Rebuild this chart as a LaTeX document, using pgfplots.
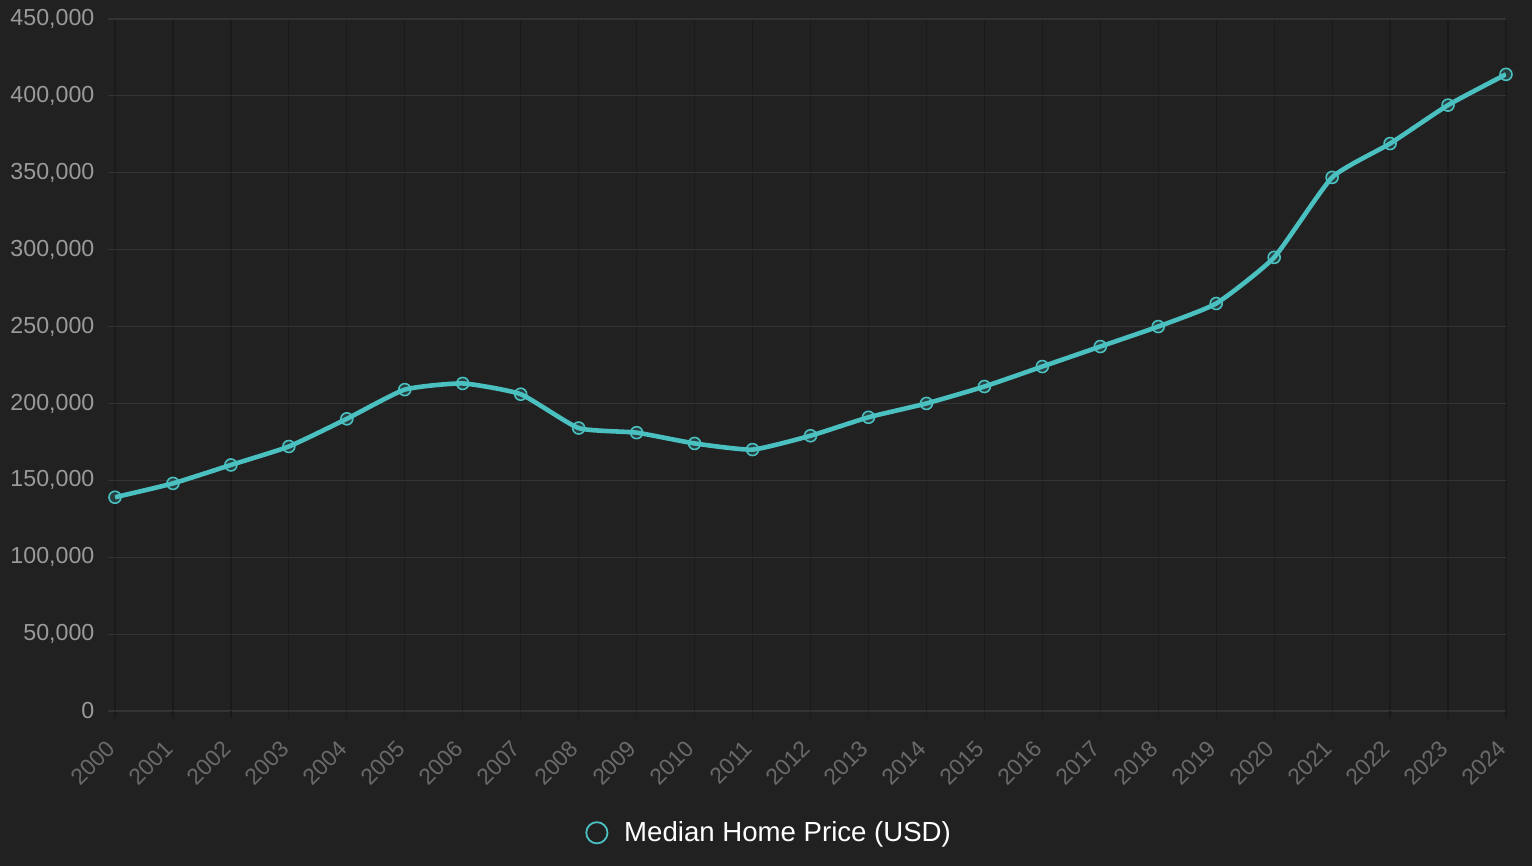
\documentclass[border=0pt]{standalone}
\usepackage{pgfplots}
\pgfplotsset{compat=1.18}
\usepackage{fontspec}
\setmainfont{Liberation Sans}
\definecolor{bg}{HTML}{212121}
\definecolor{tealc}{HTML}{4BC0C0}
\definecolor{gridh}{HTML}{333333}
\definecolor{gridv}{HTML}{1A1A1A}
\definecolor{ylab}{HTML}{9A9A9A}
\definecolor{xlab}{HTML}{6A6A6A}
\begin{document}
\begin{tikzpicture}
\fill[bg] (-57.5pt,-77.5pt) rectangle (708.5pt,355.5pt);
\useasboundingbox (-57.5pt,-77.5pt) rectangle (708.5pt,355.5pt);
\begin{axis}[
  at={(0pt,0pt)}, anchor=origin,
  scale only axis,
  width=695.5pt, height=346pt,
  xmin=2000, xmax=2024, ymin=0, ymax=450000,
  xtick={2000,2001,...,2024},
  xticklabels={2000,2001,2002,2003,2004,2005,2006,2007,2008,2009,2010,2011,2012,2013,2014,2015,2016,2017,2018,2019,2020,2021,2022,2023,2024},
  ytick={0,50000,100000,150000,200000,250000,300000,350000,400000,450000},
  yticklabels={0,{50,000},{100,000},{150,000},{200,000},{250,000},{300,000},{350,000},{400,000},{450,000}},
  scaled y ticks=false,
  axis line style={draw=none},
  xtick pos=bottom, ytick pos=left,
  grid=major,
  x grid style={draw=gridv, line width=0.6pt},
  y grid style={draw=gridh, line width=0.6pt},
  tick align=outside,
  major tick length=3.5pt,
  xtick style={draw=gridv, line width=0.6pt},
  ytick style={draw=gridh, line width=0.6pt},
  yticklabel style={font=\fontsize{11.6}{13}\selectfont, text=ylab, xshift=-3.3pt},
  xticklabel style={font=\fontsize{11.4}{13}\selectfont, text=xlab, xshift=-5pt, yshift=-9pt, rotate=45, anchor=north east, inner sep=1pt},
  legend style={at={(0.471,-0.176)}, anchor=center, draw=none, fill=none,
    text=white, font=\fontsize{13.8}{16}\selectfont, legend cell align=left},
  legend image code/.code={\draw[draw=tealc, line width=0.9pt] (0.25cm,0cm) circle (5.3pt); \path (0.62cm,0cm);},
]
\addplot[tealc, line width=2.3pt, smooth, tension=0.3,
  mark=*, mark size=3pt,
  mark options={draw=tealc, fill=tealc, fill opacity=0.2, line width=0.8pt}]
  coordinates {
  (2000,139000) (2001,148000) (2002,160000) (2003,172000) (2004,190000)
  (2005,209000) (2006,213000) (2007,206000) (2008,184000) (2009,181000)
  (2010,174000) (2011,170000) (2012,179000) (2013,191000) (2014,200000)
  (2015,211000) (2016,224000) (2017,237000) (2018,250000) (2019,265000)
  (2020,295000) (2021,347000) (2022,369000) (2023,394000) (2024,414000)
  };
\addlegendentry{Median Home Price (USD)}
\end{axis}
\end{tikzpicture}
\end{document}
